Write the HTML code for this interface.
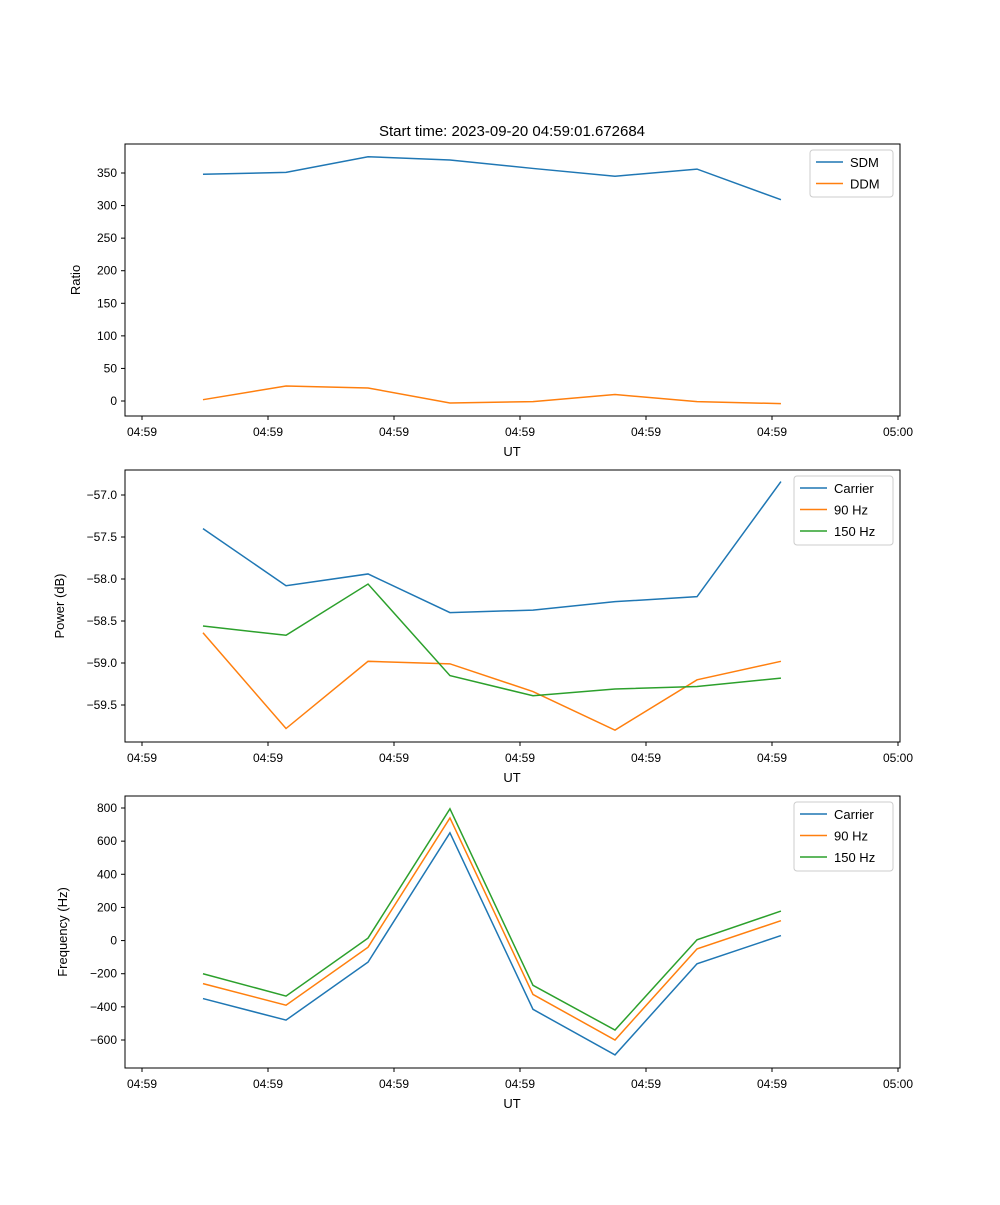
<!DOCTYPE html>
<html><head><meta charset="utf-8"><style>
body{margin:0;background:#fff}
svg{font-family:"Liberation Sans","DejaVu Sans",sans-serif}
</style></head><body>
<svg id="fig" width="1000" height="1200">
<rect width="1000" height="1200" fill="#fff"/>
<text x="512" y="136" font-size="15" text-anchor="middle">Start time: 2023-09-20 04:59:01.672684</text>
</svg>
<script>
const xTimes=[0.484,1.143,1.794,2.444,3.103,3.754,4.405,5.071];
const xTickVals=[0,1,2,3,4,5,6];
const xTickLabels=["04:59","04:59","04:59","04:59","04:59","04:59","05:00"];
const sdm=[348,351,375,370,357,345,356,309];
const ddm=[2,23,20,-3,-1,10,-1,-4];
const pCarrier=[-57.40,-58.08,-57.94,-58.40,-58.37,-58.27,-58.21,-56.84];
const p90=[-58.64,-59.78,-58.98,-59.01,-59.34,-59.80,-59.20,-58.98];
const p150=[-58.56,-58.67,-58.06,-59.15,-59.39,-59.31,-59.28,-59.18];
const fCarrier=[-350,-480,-130,650,-415,-690,-140,30];
const f90=[-260,-390,-40,740,-325,-600,-50,120];
const f150=[-200,-335,15,795,-270,-540,5,178];
const ticksTop=[0,50,100,150,200,250,300,350];
const ticksMid=[-59.5,-59.0,-58.5,-58.0,-57.5,-57.0];
const ticksBot=[-600,-400,-200,0,200,400,600,800];

const NS="http://www.w3.org/2000/svg";
const svg=document.getElementById('fig');
function el(t,a,p){const e=document.createElementNS(NS,t);for(const k in a)e.setAttribute(k,a[k]);(p||svg).appendChild(e);return e;}
const X=t=>142+t*126;
const C=["#1f77b4","#ff7f0e","#2ca02c"];
function panel(name,top,yv0,yp0,yv1,yp1,ticks,fmt,ylabel,series,names,legend){
  const Y=v=>yp0+(v-yv0)*(yp1-yp0)/(yv1-yv0);
  const g=el('g',{});
  
  
  series.forEach((s,i)=>{
    const pl=el('polyline',{points:s.map((v,j)=>X(xTimes[j])+','+Y(v)).join(' '),fill:'none',stroke:C[i],'stroke-width':1.5},g);
    
    
  });
  const fr=el('rect',{x:125,y:top,width:775,height:272,fill:'none',stroke:'#000','stroke-width':1},g);
  
  
  ticks.forEach(v=>{
    const y=Y(v);
    el('line',{x1:121,x2:125,y1:y,y2:y,stroke:'#000'},g);
    const t=el('text',{x:117,y:y+4,'font-size':12,'text-anchor':'end'},g);t.textContent=fmt(v);
    
    
  });
  xTickVals.forEach((v,i)=>{
    const x=X(v);
    el('line',{x1:x,x2:x,y1:top+272,y2:top+276,stroke:'#000'},g);
    const t=el('text',{x:x,y:top+292,'font-size':12,'text-anchor':'middle'},g);t.textContent=xTickLabels[i];
    
    
  });
  const xl=el('text',{x:512,y:top+312,'font-size':13,'text-anchor':'middle'},g);xl.textContent='UT';
  
  
  const yl=el('text',{x:0,y:0,'font-size':13,'text-anchor':'middle',transform:`translate(${legend.yx},${top+136}) rotate(-90)`},g);yl.textContent=ylabel;
  
  
  const lg=el('g',{},g);
  
  
  el('rect',{x:legend.x,y:top+6,width:legend.w,height:3+names.length*22,rx:3,fill:'#fff',stroke:'#ccc'},lg);
  names.forEach((n,i)=>{
    const yy=top+18+i*21.5;
    el('line',{x1:legend.x+6,x2:legend.x+33,y1:yy,y2:yy,stroke:C[i],'stroke-width':1.5},lg);
    const t=el('text',{x:legend.x+40,y:yy+5,'font-size':13},lg);t.textContent=n;
    
    
  });
}
panel('ratio',144,350,173,0,401,ticksTop,v=>String(v),'Ratio',[sdm,ddm],['SDM','DDM'],{x:810,w:83,yx:80});
panel('power',470,-57,495,-59.5,705,ticksMid,v=>'\u2212'+Math.abs(v).toFixed(1),'Power (dB)',[pCarrier,p90,p150],['Carrier','90 Hz','150 Hz'],{x:794,w:99,yx:64});
panel('frequency',796,800,808,-600,1040,ticksBot,v=>(v<0?'\u2212':'')+Math.abs(v),'Frequency (Hz)',[fCarrier,f90,f150],['Carrier','90 Hz','150 Hz'],{x:794,w:99,yx:67});
</script>
</body></html>
